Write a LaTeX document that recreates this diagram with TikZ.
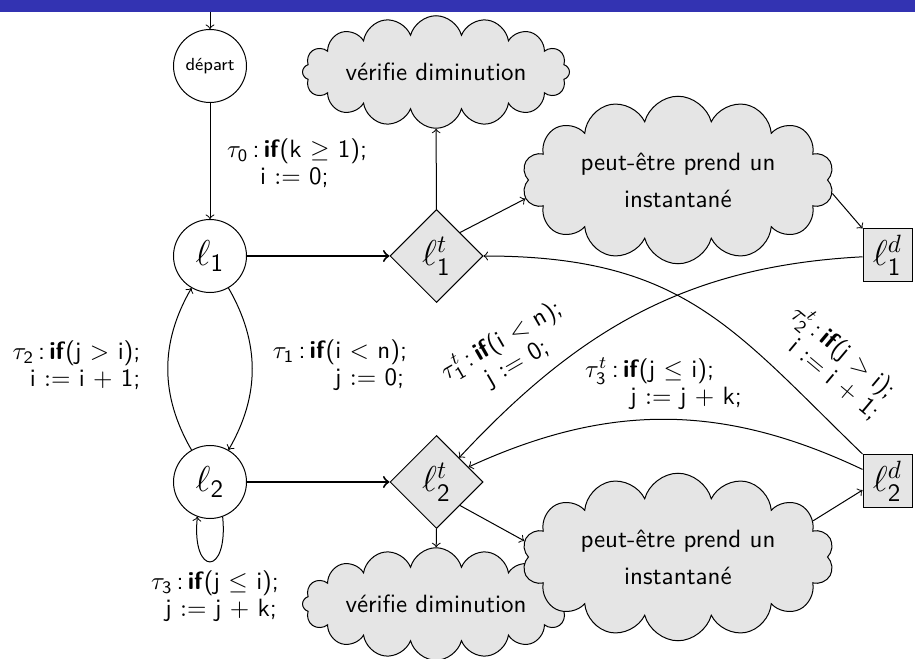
\documentclass[tikz,border=0pt]{standalone}
\usepackage{amsmath}
\usepackage{fontspec}
\renewcommand{\familydefault}{\sfdefault}
\usetikzlibrary{shapes.geometric,shapes.symbols}
\definecolor{barblue}{RGB}{51,51,178}
\definecolor{shade}{gray}{0.9}

\begin{document}
\begin{tikzpicture}[x=0.4pt,y=-0.4pt,>=to,
  state/.style={circle,draw,minimum size=29.2pt,inner sep=0pt,font=\Large},
  test/.style={diamond,draw,fill=shade,minimum width=37.2pt,minimum height=37.2pt,inner sep=0pt,font=\Large},
  dump/.style={rectangle,draw,fill=shade,minimum width=19.6pt,minimum height=21.2pt,inner sep=0pt,font=\Large},
  puff/.style={cloud,draw,fill=shade,cloud ignores aspect,inner sep=0pt,align=center,
    font=\fontsize{10}{14.8}\selectfont},
  smallpuff/.style={puff,cloud puffs=16,minimum width=106.8pt,minimum height=45pt},
  bigpuff/.style={puff,cloud puffs=14,shape border rotate=12.86,minimum width=124.8pt,minimum height=67pt},
  guard/.style={align=left,inner sep=0pt,font=\fontsize{10}{10.8}\selectfont}]

\clip (0,0) rectangle (915,659);
\fill[barblue] (0,0) rectangle (915,12);

% locations
\coordinate (entry) at (210,12);
\node[state,font=\scriptsize] (dep) at (210,66) {départ};
\node[state] (l1) at (210,256) {$\ell_{\mathsf{1}}$};
\node[state] (l2) at (210,482) {$\ell_{\mathsf{2}}$};
\node[test] (l1t) at (436.5,256) {$\ell_{\mathsf{1}}^{t}$};
\node[test] (l2t) at (436.5,482) {$\ell_{\mathsf{2}}^{t}$};
\node[dump] (l1d) at (887.5,255.5) {$\ell_{\mathsf{1}}^{d}$};
\node[dump] (l2d) at (887.5,481) {$\ell_{\mathsf{2}}^{d}$};

% actions of the instrumentation
\node[smallpuff] (v1) at (436,72) {vérifie diminution};
\node[smallpuff] (v2) at (436,604) {vérifie diminution};
\node[bigpuff] (p1) at (678,180) {peut-être prend un\\instantané};
\node[bigpuff] (p2) at (678,557) {peut-être prend un\\instantané};

% transitions
\draw[->] (entry) -- (dep);
\draw[->] (dep) -- (l1);
\draw[->,thick] (l1) -- (l1t);
\draw[->,thick] (l2) -- (l2t);
\draw[->] (l1) to[bend left] (l2);
\draw[->] (l2) to[bend left] (l1);
\draw[->] (l2.-70) .. controls +(6,60) and +(-6,60) .. (l2.-110);
\draw[->] (l1t) -- (v1);
\draw[->] (l1t.north east) -- (p1.187);
\draw[->] (p1.-5) -- (l1d.north west);
\draw[->] (l2t) -- (v2);
\draw[->] (l2t.south east) -- (p2.174);
\draw[->] (p2.15) -- (l2d.200);
\draw[->] (l2d.north west) .. controls +(-129.4,-125.1) and +(200,0) .. (l1t.east);
\draw[->] (l1d) to[out=183,in=47] (l2t);
\draw[->] (l2d) to[bend right=25] (l2t);

% guards and updates
\node[guard] (g0) at (297,163) {$\tau_{\mathsf{0}}$\,:\,\textbf{if}(k $\geq$ 1);\\\hspace*{13.2pt}i $:=$ 0;};
\node[guard] (g1) at (340,365) {$\tau_{\mathsf{1}}$\,:\,\textbf{if}(i $<$ n);\\\hspace*{24.8pt}j $:=$ 0;};
\node[guard,align=right] (g2) at (76.5,365) {$\tau_{\mathsf{2}}$\,:\,\textbf{if}(j $>$ i);\\i $:=$ i $+$ 1;};
\node[guard] (g3) at (215,596) {$\tau_{\mathsf{3}}$\,:\,\textbf{if}(j $\leq$ i);\\\hspace*{5.6pt}j $:=$ j $+$ k;};
\node[guard,rotate=30] (g1t) at (508,352) {$\tau_{\mathsf{1}}^t$\,:\,\textbf{if}(i $<$ n);\\\hspace*{14pt}j $:=$ 0;};
\node[guard,rotate=-40] (g2t) at (836,362) {$\tau_{\mathsf{2}}^t$\,:\,\textbf{if}(j $>$ i);\\\hspace*{8pt}i $:=$ i $+$ 1;};
\node[guard] (g3t) at (663.5,384) {$\tau_{\mathsf{3}}^t$\,:\,\textbf{if}(j $\leq$ i);\\\hspace*{18pt}j $:=$ j $+$ k;};
\end{tikzpicture}
\end{document}
